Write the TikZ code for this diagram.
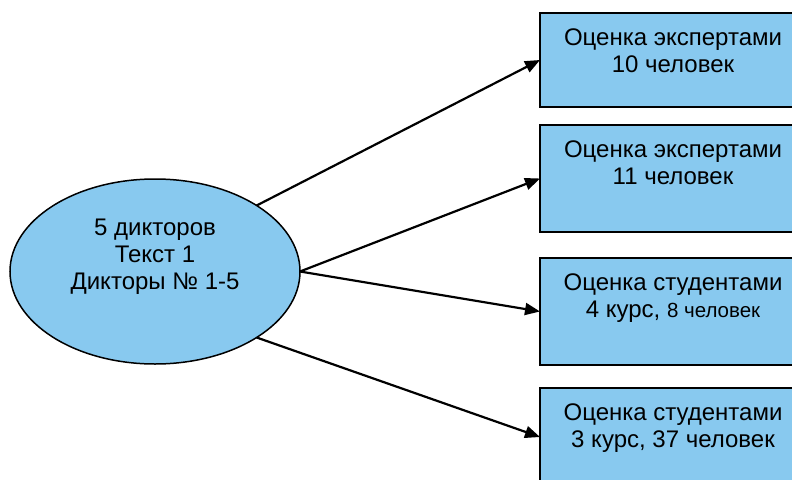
\documentclass[tikz,border=0pt]{standalone}
\usepackage{fontspec}
\setmainfont{Liberation Sans}
\usetikzlibrary{arrows.meta,shapes.geometric}
\definecolor{fillblue}{RGB}{136,201,239}
\begin{document}
\begin{tikzpicture}[x=1pt,y=-1pt,
  boxst/.style={draw=black, line width=1.6pt, fill=fillblue, minimum width=266pt, anchor=north west, inner sep=0pt, outer sep=0pt},
  ellst/.style={draw=black, line width=1.5pt, fill=fillblue, ellipse, minimum width=290pt, minimum height=185pt, inner sep=0pt, outer sep=0pt},
  txt/.style={align=center, font=\fontsize{24}{27}\selectfont, inner sep=0pt, anchor=north},
  arr/.style={line width=2.2pt, -{Triangle[length=15pt,width=12pt]}}]
\useasboundingbox (0,0) rectangle (792,479);
\clip (0,0) rectangle (792,479);
\node[ellst] (ell) at (155,271.5) {};
\node[txt] (etxt) at (155,219) {5 дикторов\\Текст 1\\Дикторы № 1-5};
\node[boxst, minimum height=94pt] (b1) at (540,13) {};
\node[boxst, minimum height=107pt] (b2) at (540,125) {};
\node[boxst, minimum height=107pt] (b3) at (540,258) {};
\node[boxst, minimum height=98pt] (b4) at (540,388) {};
\node[txt] (t1) at ([yshift=-15.5pt]b1.north) {Оценка экспертами\\10 человек};
\node[txt] (t2) at ([yshift=-15.5pt]b2.north) {Оценка экспертами\\11 человек};
\node[txt] (t3) at ([yshift=-15.5pt]b3.north) {Оценка студентами\\4 курс, {\fontsize{20.5}{27}\selectfont 8 человек}};
\node[txt] (t4) at ([yshift=-15.5pt]b4.north) {Оценка студентами\\3 курс, 37 человек};
\draw[arr] (ell.33) -- (b1.west);
\draw[arr] (ell.east) -- (b2.west);
\draw[arr] (ell.east) -- (b3.west);
\draw[arr] (ell.-33) -- (b4.west);
\end{tikzpicture}
\end{document}
